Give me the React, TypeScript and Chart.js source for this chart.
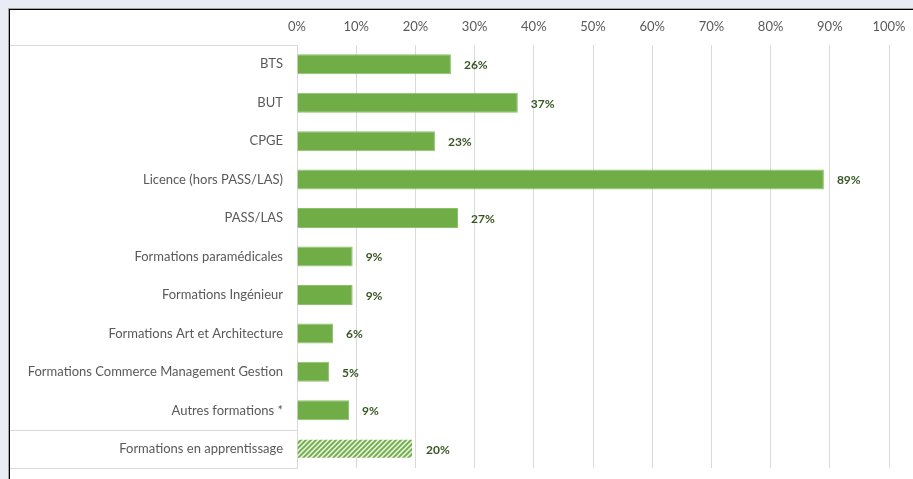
import React, { useEffect, useRef } from "react";
import { Chart, registerables } from "chart.js";

Chart.register(...registerables);

const categories = [
  "BTS",
  "BUT",
  "CPGE",
  "Licence (hors PASS/LAS)",
  "PASS/LAS",
  "Formations paramédicales",
  "Formations Ingénieur",
  "Formations Art et Architecture",
  "Formations Commerce Management Gestion",
  "Autres formations *",
  "Formations en apprentissage",
];
const values = [26, 37.3, 23.3, 89, 27.2, 9.4, 9.4, 6.1, 5.4, 8.8, 19.6];
const hatched = [false, false, false, false, false, false, false, false, false, false, true];
const xTicks = [0, 10, 20, 30, 40, 50, 60, 70, 80, 90, 100];

const FONT = "Lato, 'Open Sans', sans-serif";
const GREEN = "#70ad47";

function makeHatch(): CanvasPattern | string {
  const c = document.createElement("canvas");
  c.width = 5;
  c.height = 5;
  const g = c.getContext("2d");
  if (!g) return GREEN;
  g.fillStyle = "#e2efda";
  g.fillRect(0, 0, 5, 5);
  g.strokeStyle = GREEN;
  g.lineWidth = 1.8;
  g.beginPath();
  g.moveTo(-1, 6);
  g.lineTo(6, -1);
  g.moveTo(-4, 4);
  g.lineTo(4, -4);
  g.moveTo(1, 9);
  g.lineTo(9, 1);
  g.stroke();
  const p = g.createPattern(c, "repeat");
  return p || GREEN;
}

const framePlugin = {
  id: "frame",
  beforeDraw(chart: any) {
    const { ctx, chartArea } = chart;
    ctx.save();
    ctx.fillStyle = "#ffffff";
    ctx.fillRect(0, 0, chart.width, chart.height);
    ctx.fillStyle = "#a6a6a6";
    ctx.fillRect(0, 0, chart.width, 1);
    ctx.fillRect(0, 0, 1, chart.height);
    ctx.fillStyle = "#000000";
    ctx.fillRect(1, 1, chart.width, 1);
    ctx.fillRect(1, 1, 1, chart.height);
    ctx.strokeStyle = "#d9d9d9";
    ctx.lineWidth = 1;
    const left = 2;
    const right = Math.round(chartArea.left) + 0.5;
    const top = Math.round(chartArea.top) + 0.5;
    const bottom = Math.round(chartArea.bottom) + 0.5;
    const n = categories.length;
    const step = (chartArea.bottom - chartArea.top) / n;
    const sep = Math.round(chartArea.top + step * (n - 1)) + 0.5;
    ctx.beginPath();
    ctx.moveTo(left, top);
    ctx.lineTo(right, top);
    ctx.lineTo(right, bottom);
    ctx.lineTo(left, bottom);
    ctx.moveTo(left, sep);
    ctx.lineTo(right, sep);
    ctx.stroke();
    ctx.restore();
  },
};

const labelPlugin = {
  id: "barLabels",
  afterDatasetsDraw(chart: any) {
    const { ctx } = chart;
    const meta = chart.getDatasetMeta(0);
    ctx.save();
    ctx.font = `bold 12px ${FONT}`;
    ctx.fillStyle = "#375623";
    ctx.textAlign = "left";
    ctx.textBaseline = "middle";
    meta.data.forEach((bar: any, i: number) => {
      ctx.fillText(`${Math.round(values[i])}%`, bar.x + 13, bar.y + 1);
    });
    ctx.restore();
  },
};

export default function App() {
  const ref = useRef<HTMLCanvasElement>(null);

  useEffect(() => {
    document.body.style.margin = "8px 0 0 8px";
    document.body.style.background = "#e9ebf5";
    document.documentElement.style.overflow = "hidden";
    if (!ref.current) return;
    const hatch = makeHatch();
    const chart = new Chart(ref.current, {
      type: "bar",
      data: {
        labels: categories,
        datasets: [
          {
            data: values,
            backgroundColor: hatched.map((h) => (h ? hatch : GREEN)) as any,
            borderColor: hatched.map((h) => (h ? "rgba(0,0,0,0)" : "#8cc16a")),
            borderWidth: 1,
            barPercentage: 0.52,
            categoryPercentage: 1,
          },
        ],
      },
      options: {
        indexAxis: "y",
        animation: false,
        responsive: false,
        maintainAspectRatio: false,
        layout: { padding: { left: 0, right: 24, top: 0, bottom: 11 } },
        plugins: {
          legend: { display: false },
          tooltip: { enabled: false },
        },
        scales: {
          x: {
            position: "top",
            min: 0,
            max: 100,
            afterBuildTicks(scale: any) {
              scale.ticks = xTicks.map((v) => ({ value: v }));
            },
            afterFit(scale: any) {
              scale.height = 37;
              scale.paddingLeft = 0;
              scale.paddingRight = 0;
            },
            ticks: {
              callback: (v: any) => `${v}%`,
              color: "#595959",
              font: { family: FONT, size: 13 },
              padding: 10,
              maxRotation: 0,
            },
            grid: { color: "#d9d9d9", drawTicks: false, lineWidth: 1 },
            border: { display: false },
          },
          y: {
            afterFit(scale: any) {
              scale.width = 289;
              scale.paddingTop = 0;
              scale.paddingBottom = 0;
            },
            ticks: {
              color: "#595959",
              font: { family: FONT, size: 13 },
              padding: 14,
            },
            grid: { display: false, drawTicks: false },
            border: { display: false },
          },
        },
      },
      plugins: [framePlugin, labelPlugin],
    });
    return () => chart.destroy();
  }, []);

  return (
    <div style={{ width: 905, height: 471 }}>
      <canvas ref={ref} width={905} height={471} style={{ display: "block" }} />
    </div>
  );
}
